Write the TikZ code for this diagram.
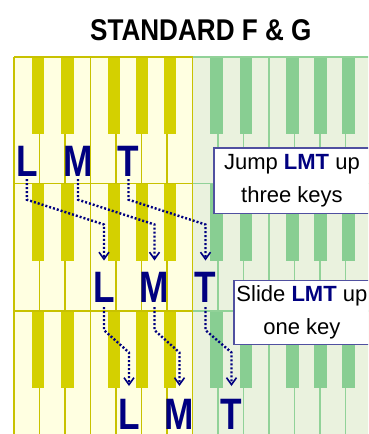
\documentclass[tikz,border=0pt]{standalone}
\usepackage{fontspec}
\setmainfont{Liberation Sans}
\usetikzlibrary{arrows.meta,calc}

% keyboard palette
\definecolor{ybg}{RGB}{255,255,225}
\definecolor{ykey}{RGB}{212,208,0}
\definecolor{yline}{RGB}{200,194,0}
\definecolor{gbg}{RGB}{234,242,222}
\definecolor{gkey}{RGB}{136,206,146}
\definecolor{gline}{RGB}{145,210,152}
\definecolor{navy}{RGB}{0,0,128}
\definecolor{boxline}{RGB}{80,80,160}

\newcommand{\lmtword}{\textcolor{navy}{\bfseries LMT}}

\tikzset{
  finger/.style={anchor=base, inner sep=0pt, text=navy,
    font=\fontsize{44}{44}\selectfont\bfseries},
  hop/.style={draw=navy, line width=2.4pt, dash pattern=on 2pt off 2pt,
    -{Straight Barb[length=7pt,width=10pt,line width=1.6pt]}},
  callout/.style={draw=boxline, line width=1.2pt, fill=white, anchor=north west,
    align=center, inner sep=0pt,
    font=\fontsize{22}{33}\selectfont},
  heading/.style={anchor=base, inner sep=0pt,
    font=\fontsize{30}{30}\selectfont\bfseries}
}

\begin{document}
\begin{tikzpicture}[x=1pt,y=-1pt]
\useasboundingbox (0,0) rectangle (368,434);
\clip (0,0) rectangle (368,434);

% three keyboard strips, each one octave of yellow and one of green
\foreach \top/\bot in {57/183.5, 183.5/311, 311/438}{
  \fill[ybg] (14,\top) rectangle (192.5,\bot);
  \fill[gbg] (192.5,\top) rectangle (372,\bot);
  \foreach \o/\lc/\kc in {14/yline/ykey, 192.5/gline/gkey}{
    \foreach \k in {1,...,6}
      \draw[\lc, line width=1.4pt] (\o+\k*25.5,\top) -- (\o+\k*25.5,\bot);
    \foreach \b in {17.8,47,93.5,121.5,149.5}
      \fill[\kc] (\o+\b,\top) rectangle (\o+\b+12.5,\top+77);
    \draw[\lc, line width=1.6pt] (\o,\top) -- (\o+178.5,\top);
  }
  \draw[yline, line width=1.6pt] (192.5,\top) -- (192.5,\bot);
}
\draw[yline, line width=2pt] (14,57) -- (14,438);

% finger letters on each strip
\node[finger] (L1) at (26.8,176) {\scalebox{0.8}[1]{L}};
\node[finger] (M1) at (78,176)   {\scalebox{0.8}[1]{M}};
\node[finger] (T1) at (128.5,176) {\scalebox{0.8}[1]{T}};
\node[finger] (L2) at (104,302)  {\scalebox{0.8}[1]{L}};
\node[finger] (M2) at (154.5,302) {\scalebox{0.8}[1]{M}};
\node[finger] (T2) at (205.5,302) {\scalebox{0.8}[1]{T}};
\node[finger] (L3) at (129,429)  {\scalebox{0.8}[1]{L}};
\node[finger] (M3) at (179.5,429) {\scalebox{0.8}[1]{M}};
\node[finger] (T3) at (231.5,429) {\scalebox{0.8}[1]{T}};

% jump of three keys
\foreach \a/\b in {L1/L2, M1/M2, T1/T2}
  \draw[hop] ($(\a.south)+(0,3)$) -- ($(\a.south)+(0,23.5)$)
    -- ($(\b.north)+(0,-47)$) -- ($(\b.north)+(0,-11)$);
% slide of one key
\foreach \a/\b in {L2/L3, M2/M3, T2/T3}
  \draw[hop] ($(\a.south)+(0,5)$) -- ($(\a.south)+(0,28)$)
    -- ($(\b.north)+(0,-46)$) -- ($(\b.north)+(0,-12.5)$);

% callouts
\node[callout, minimum width=156pt, minimum height=65.4pt] (jump) at (213.3,147.3)
  {Jump \lmtword{} up\\three keys};
\node[callout, minimum width=136pt, minimum height=64pt] (slide) at (233.3,280)
  {Slide \lmtword{} up\\one key};

% title
\node[heading] (title) at (200.8,40) {\scalebox{0.87}[1]{STANDARD F \& G}};
\end{tikzpicture}
\end{document}
